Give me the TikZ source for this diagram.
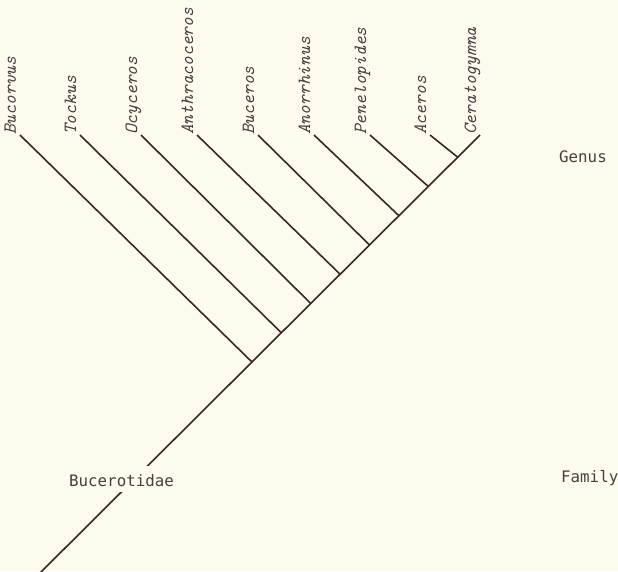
\documentclass[tikz,border=0pt]{standalone}
\usepackage{fontspec}
\newfontfamily\rankfont{DejaVu Sans Mono}
\usetikzlibrary{calc}
\definecolor{paper}{RGB}{253,251,238}
\definecolor{ink}{RGB}{58,38,38}
\definecolor{typeink}{RGB}{72,62,62}
\begin{document}
\begin{tikzpicture}[x=1pt,y=-1pt,
  branch/.style={draw=ink,line width=1.6pt},
  genus/.style={rotate=90,anchor=base west,inner sep=0pt,yshift=4pt,
    text=typeink,font=\fontsize{18.6}{19}\selectfont\ttfamily\itshape},
  rank/.style={anchor=base west,inner sep=0pt,text=typeink,
    font=\fontsize{15.8}{16}\selectfont\rankfont}]
\fill[paper] (0,0) rectangle (618,571);
\useasboundingbox (0,0) rectangle (618,571);

% root of the family and top of the main stem
\coordinate (root) at (40,573);
\coordinate (t9) at (480,135);

% tips of the genus branches
\coordinate (t1) at (20,135);
\coordinate (t2) at (80,135);
\coordinate (t3) at (141,135);
\coordinate (t4) at (197,135);
\coordinate (t5) at (258,135);
\coordinate (t6) at (314,135);
\coordinate (t7) at (370,135);
\coordinate (t8) at (430,135);

% branching points along the main stem
\foreach \k/\t in {1/0.4817,2/0.5485,3/0.6153,4/0.6821,5/0.7489,6/0.8157,7/0.8825,8/0.9493}
  \coordinate (j\k) at ($(root)!\t!(t9)$);

% main stem
\draw[branch] (root) -- (t9);

% side branches
\foreach \k in {1,...,8}
  \draw[branch] (t\k) -- (j\k);

% genus names
\node[genus] (g1) at (t1) {Bucorvus};
\node[genus] (g2) at (t2) {Tockus};
\node[genus] (g3) at (t3) {Ocyceros};
\node[genus] (g4) at (t4) {Anthracoceros};
\node[genus] (g5) at (t5) {Buceros};
\node[genus] (g6) at (t6) {Anorrhinus};
\node[genus] (g7) at (t7) {Penelopides};
\node[genus] (g8) at (t8) {Aceros};
\node[genus] (g9) at (t9) {Ceratogymna};

% family name, set over the stem
\node[rank,fill=paper,inner xsep=2pt,inner ysep=3pt,text height=17pt,text depth=3pt]
  (fam) at (67,486) {Bucerotidae};

% rank labels
\node[rank] (rgenus) at (559,162) {Genus};
\node[rank] (rfamily) at (561,482) {Family};
\end{tikzpicture}
\end{document}
